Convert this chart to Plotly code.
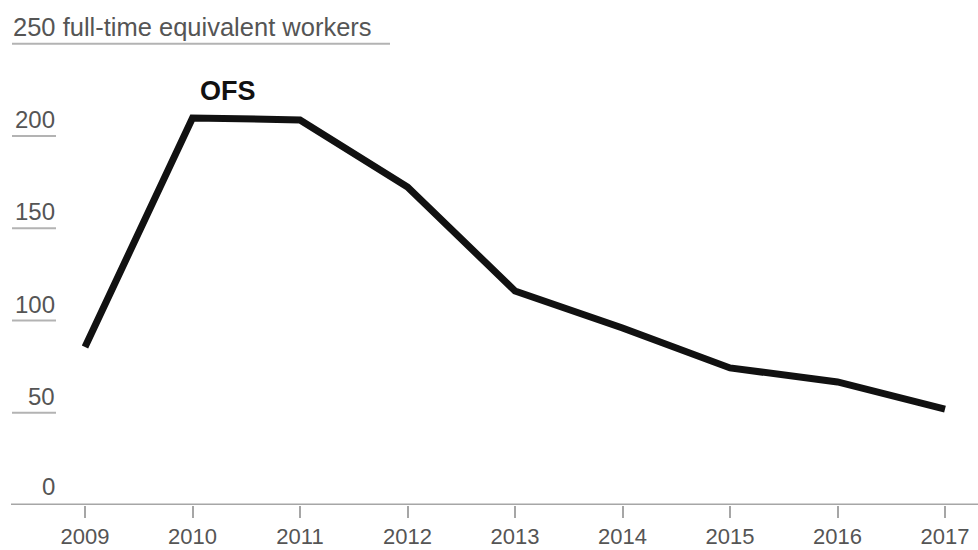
import plotly.graph_objects as go

years = [2009, 2010, 2011, 2012, 2013, 2014, 2015, 2016, 2017]
workers = [85.6, 209.8, 208.7, 172.4, 116.0, 95.9, 74.3, 66.7, 52.0]
y_ticks = [0, 50, 100, 150, 200, 250]
y_tick_labels = ["0", "50", "100", "150", "200", "250 full-time equivalent workers"]
series_label = "OFS"

W, H = 978, 550
FONT = "Liberation Sans, Arial, Helvetica, sans-serif"
TXT = "#555555"
GRID = "#b3b3b3"

fig = go.Figure()
fig.add_trace(go.Scatter(
    x=years, y=workers, mode="lines",
    line=dict(color="#111111", width=7),
    hoverinfo="skip", showlegend=False,
))

shapes = []
annotations = []
for v, lab in zip(y_ticks, y_tick_labels):
    if v == 0:
        continue
    is_head = v == y_ticks[-1]
    x1 = 390 / W if is_head else 56 / W
    shapes.append(dict(type="line", xref="paper", yref="y",
                       x0=12 / W, x1=x1, y0=v, y1=v,
                       line=dict(color=GRID, width=2)))
    annotations.append(dict(
        xref="paper", yref="y",
        x=(11 / W) if is_head else (57 / W), y=v,
        xanchor="left" if is_head else "right", yanchor="bottom",
        yshift=1, text=lab, showarrow=False,
        font=dict(family=FONT, size=25.5 if is_head else 24, color=TXT),
    ))

# zero label
annotations.append(dict(
    xref="paper", yref="y", x=57 / W, y=0,
    xanchor="right", yanchor="bottom", yshift=3, text=y_tick_labels[0],
    showarrow=False, font=dict(family=FONT, size=24, color=TXT),
))

# baseline
shapes.append(dict(type="line", xref="paper", yref="y",
                   x0=11 / W, x1=1, y0=0, y1=0,
                   line=dict(color="#a6a6a6", width=3)))

# series label
annotations.append(dict(
    x=years[1], y=workers[1], xref="x", yref="y",
    xanchor="center", yanchor="bottom", xshift=35, yshift=10,
    text="<b>" + series_label + "</b>", showarrow=False,
    font=dict(family=FONT, size=27, color="#111111"),
))

px_per_year = 107.5
x0 = years[0] - 85 / px_per_year
x1 = years[-1] + (W - 945) / px_per_year
y_max = 505 / (92.25 / 50)

fig.update_layout(
    width=W, height=H,
    margin=dict(l=0, r=0, t=0, b=45),
    paper_bgcolor="white", plot_bgcolor="white",
    shapes=shapes, annotations=annotations,
    xaxis=dict(
        range=[x0, x1], tickmode="array", tickvals=years,
        ticktext=[str(y) for y in years],
        ticks="outside", ticklen=12, tickwidth=2, tickcolor="#a6a6a6",
        ticklabelstandoff=0, automargin=False,
        showgrid=False, zeroline=False, showline=False,
        tickfont=dict(family=FONT, size=22, color=TXT),
        fixedrange=True,
    ),
    yaxis=dict(
        range=[0, y_max], showgrid=False, zeroline=False, showline=False,
        showticklabels=False, ticks="", fixedrange=True, automargin=False,
    ),
)

fig.write_html(
    "out.html",
    config={"displayModeBar": False},
    post_script="document.body.style.margin='0';document.body.style.overflow='hidden';",
)
